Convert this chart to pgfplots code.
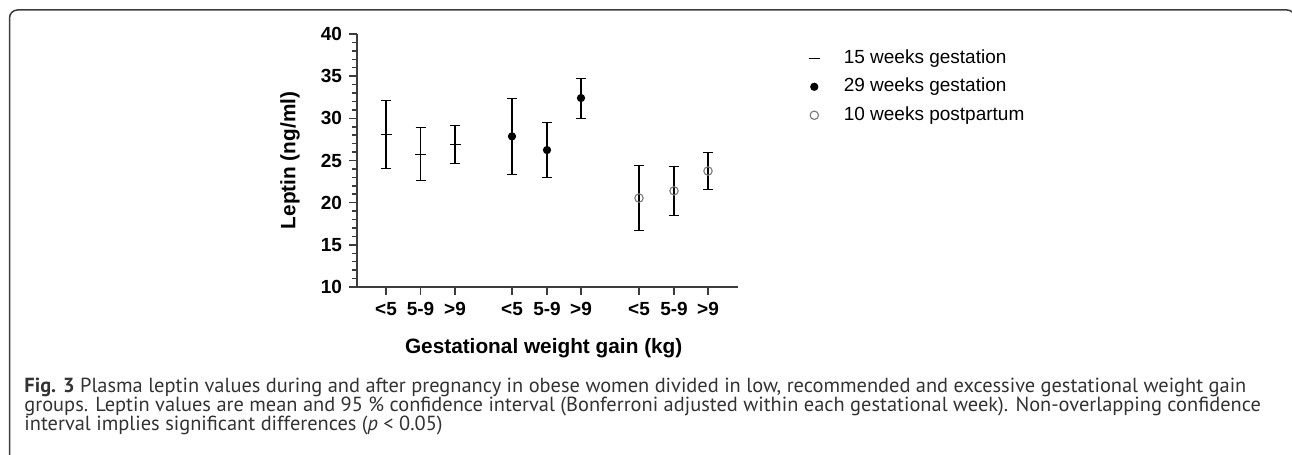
\documentclass[border=0pt]{standalone}
\usepackage{fontspec}
\setmainfont{Liberation Sans}
\newfontfamily\capfont{PT Sans}
\usepackage{pgfplots}
\pgfplotsset{compat=1.18}
\usepackage{pgfplotstable}
\definecolor{axgray}{HTML}{3C3C3C}
\definecolor{capgray}{HTML}{333333}
\definecolor{circgray}{HTML}{7A7A7A}
\pgfplotstableread{
x y ep em
29 28.10 4.04 4.03
63.5 25.70 3.20 3.05
98 26.92 2.25 2.25
}\tabA
\pgfplotstableread{
x y ep em
155 27.86 4.47 4.50
190 26.24 3.24 3.24
224 32.41 2.33 2.41
}\tabB
\pgfplotstableread{
x y ep em
282 20.55 3.85 3.85
317 21.40 2.90 2.90
351 23.75 2.18 2.21
}\tabC
\newlength\capw
\newsavebox\capbox
\begin{document}%
\sbox\capbox{\capfont\fontsize{10pt}{12pt}\selectfont\textbf{Fig. 3} Plasma leptin values during and after pregnancy in obese women divided in low, recommended and excessive gestational weight gain}%
\setlength\capw{\wd\capbox}%
\pgfmathsetmacro\capsize{10*611/\capw}%
\begin{tikzpicture}
\path[use as bounding box] (0,0) rectangle (646pt,227.5pt);
\begin{scope}
\clip (0,0) rectangle (646pt,227.5pt);
\draw[axgray, line width=0.75pt, rounded corners=4pt] (4.75pt,-10pt) -- (4.75pt,222.5pt) -- (647.5pt,222.5pt) -- (647.5pt,-10pt);
\end{scope}
\begin{axis}[
  at={(178.5pt,84pt)}, anchor=south west, scale only axis,
  width=190.5pt, height=126.5pt,
  xmin=0, xmax=381, ymin=10, ymax=40,
  clip=false,
  axis x line*=bottom, axis y line*=left,
  axis line style={axgray, line width=0.75pt},
  xtick={29,63.5,98,155,190,224,282,317,351},
  xticklabels={{<5},{5-9},{>9},{<5},{5-9},{>9},{<5},{5-9},{>9}},
  ytick={10,15,...,40}, minor y tick num=4,
  tick align=outside,
  tick style={axgray, line width=0.75pt},
  major tick length=4pt, minor tick length=2.5pt,
  ticklabel style={font=\bfseries\fontsize{9.5pt}{11pt}\selectfont, text=black},
  /pgf/number format/assume math mode=true,
  xlabel={Gestational weight gain (kg)},
  ylabel={Leptin (ng/ml)},
  label style={font=\bfseries\fontsize{10.4pt}{12pt}\selectfont},
  xlabel style={at={(axis description cs:0.49,-0.241)}, anchor=center},
  ylabel style={at={(axis description cs:-0.176,0.5)}, anchor=center},
  legend style={draw=none, fill=none, at={(axis description cs:1.169,0.957)}, anchor=north west,
    font=\fontsize{9.5pt}{11pt}\selectfont, row sep=5.25pt,
    nodes={inner sep=0pt, text height=7pt, text depth=2pt},
    /tikz/every odd column/.append style={column sep=12pt}},
  legend cell align=left,
]
\addplot[only marks, mark=-, mark size=2.75pt, black, line width=0.75pt,
  error bars/.cd, y dir=both, y explicit,
  error bar style={line width=0.75pt, black},
  error mark options={rotate=90, mark size=2.5pt, line width=0.75pt, black}]
  table[x=x, y=y, y error plus=ep, y error minus=em] {\tabA};
\addplot[only marks, mark=*, mark size=1.8pt, black, line width=0.5pt,
  error bars/.cd, y dir=both, y explicit,
  error bar style={line width=0.75pt, black},
  error mark options={rotate=90, mark size=2.5pt, line width=0.75pt, black}]
  table[x=x, y=y, y error plus=ep, y error minus=em] {\tabB};
\addplot[only marks, mark=o, mark size=2.1pt, circgray, line width=0.55pt,
  mark options={fill=white},
  error bars/.cd, y dir=both, y explicit,
  error bar style={line width=0.75pt, black},
  error mark options={rotate=90, mark size=2.5pt, line width=0.75pt, black}]
  table[x=x, y=y, y error plus=ep, y error minus=em] {\tabC};
\legend{15 weeks gestation, 29 weeks gestation, 10 weeks postpartum}
\end{axis}
\node[anchor=base west, inner sep=0pt, text=capgray, font=\capfont\fontsize{\capsize pt}{10pt}\selectfont] at (12pt,31pt) {\textbf{Fig. 3} Plasma leptin values during and after pregnancy in obese women divided in low, recommended and excessive gestational weight gain};
\node[anchor=base west, inner sep=0pt, text=capgray, font=\capfont\fontsize{\capsize pt}{10pt}\selectfont] at (12pt,21.5pt) {groups. Leptin values are mean and 95 \% confidence interval (Bonferroni adjusted within each gestational week). Non-overlapping confidence};
\node[anchor=base west, inner sep=0pt, text=capgray, font=\capfont\fontsize{\capsize pt}{10pt}\selectfont] at (12pt,12pt) {interval implies significant differences (\textit{p} < 0.05)};
\end{tikzpicture}%
\end{document}
